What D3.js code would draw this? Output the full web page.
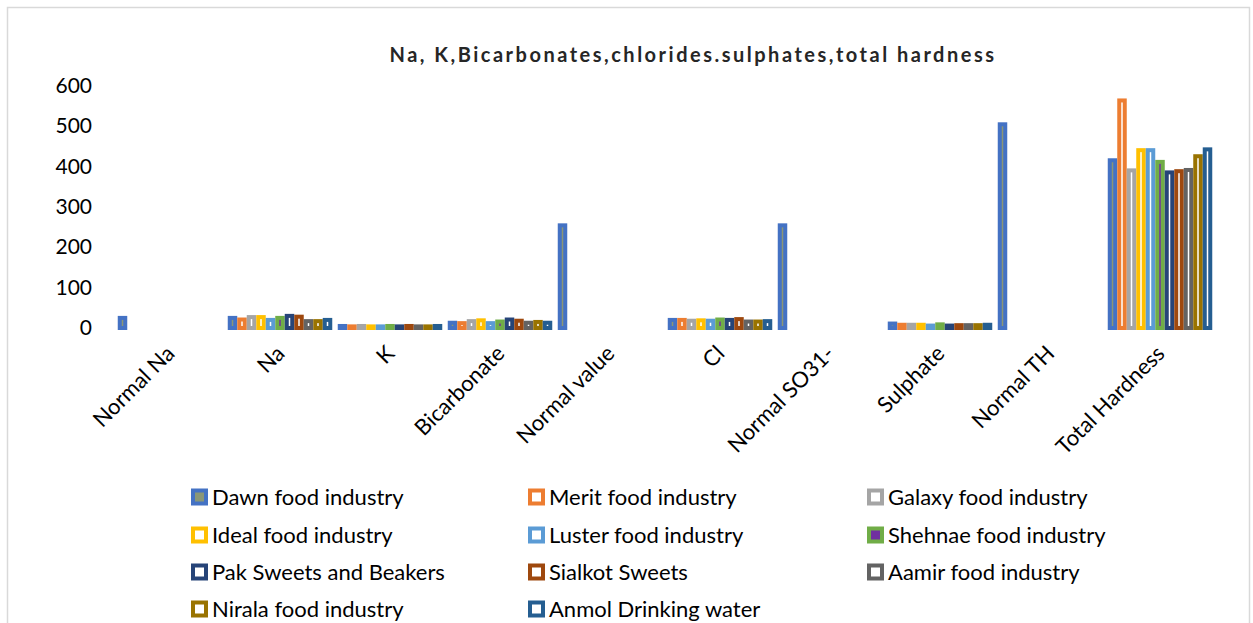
<!DOCTYPE html>
<html>
<head>
<meta charset="utf-8">
<script src="https://cdn.jsdelivr.net/npm/d3@7"></script>
<style>
  body { margin: 0; background: #fff; }
  svg { display: block; font-family: Lato, "Open Sans", sans-serif; }
</style>
</head>
<body>
<svg id="chart" width="1253" height="623"></svg>
<script>
'use strict';

const categories = ["Normal Na", "Na", "K", "Bicarbonate", "Normal value", "Cl",
	"Normal SO31-", "Sulphate", "Normal TH", "Total Hardness"];

const seriesNames = ["Dawn food industry", "Merit food industry", "Galaxy food industry",
	"Ideal food industry", "Luster food industry", "Shehnae food industry",
	"Pak Sweets and Beakers", "Sialkot Sweets", "Aamir food industry",
	"Nirala food industry", "Anmol Drinking water"];

// one value per category, in the order of `categories`
const dawn    = [25, 25, 5, 13, 254, 20, 254, 11, 504, 415];
const merit   = [0, 21, 4, 12, 0, 20, 0, 8, 0, 563];
const galaxy  = [0, 27, 5, 17, 0, 18, 0, 8, 0, 390];
const ideal   = [0, 27, 4, 19, 0, 19, 0, 8, 0, 440];
const luster  = [0, 20, 4, 12, 0, 18, 0, 6, 0, 440];
const shehnae = [0, 25, 5, 16, 0, 21, 0, 9, 0, 411];
const pak     = [0, 30, 4, 21, 0, 20, 0, 6, 0, 385];
const sialkot = [0, 28, 5, 18, 0, 22, 0, 7, 0, 388];
const aamir   = [0, 17, 4, 13, 0, 16, 0, 7, 0, 391];
const nirala  = [0, 17, 4, 15, 0, 16, 0, 7, 0, 425];
const anmol   = [0, 20, 5, 13, 0, 17, 0, 8, 0, 442];

const seriesValues = [dawn, merit, galaxy, ideal, luster, shehnae, pak, sialkot, aamir, nirala, anmol];

const outerColors = ["#4472C4", "#ED7D31", "#A5A5A5", "#FFC000", "#5B9BD5", "#70AD47",
	"#264478", "#9E480E", "#636363", "#997300", "#255E91"];
const innerColors = ["#8a9777", "#ffffff", "#ffffff", "#ffffff", "#ffffff", "#7030A0",
	"#ffffff", "#ffffff", "#ffffff", "#ffffff", "#ffffff"];

const yTicks = [0, 100, 200, 300, 400, 500, 600];

const svg = d3.select("#chart");

// chart frame
svg.append("rect")
	.attr("x", 7.5).attr("y", 7.5)
	.attr("width", 1242).attr("height", 620)
	.attr("fill", "#fff")
	.attr("stroke", "#d9d9d9")
	.attr("stroke-width", 1.5);

svg.append("text")
	.attr("x", 693).attr("y", 62)
	.attr("text-anchor", "middle")
	.attr("font-weight", "bold")
	.attr("font-size", 20)
	.attr("letter-spacing", 2.5)
	.attr("fill", "#262626")
	.text("Na, K,Bicarbonates,chlorides.sulphates,total hardness");

const y = d3.scaleLinear().domain([0, 600]).range([328, 85.5]);
const x = d3.scaleBand().domain(categories).range([115, 1215])
	.paddingInner(0.05).paddingOuter(0.025);
const xs = d3.scaleBand().domain(d3.range(seriesNames.length)).range([0, x.bandwidth()]);

// y axis labels only, no line or grid
const yAxis = d3.axisLeft(y).tickValues(yTicks).tickSize(0).tickPadding(0);
svg.append("g")
	.attr("transform", "translate(92,0)")
	.call(yAxis)
	.call(g => g.select(".domain").remove())
	.call(g => g.selectAll("text")
		.attr("font-size", 21)
		.attr("font-family", "Lato, sans-serif")
		.attr("fill", "#000"));

// bars: thick outline in series colour, narrow inner fill
const sw = 4;
const bars = [];
seriesValues.forEach((vals, si) => {
	vals.forEach((v, ci) => {
		if (v > 0) bars.push({si: si, cat: categories[ci], v: v});
	});
});

svg.append("g").selectAll("rect")
	.data(bars)
	.enter().append("rect")
	.attr("x", d => x(d.cat) + xs(d.si) + sw / 2)
	.attr("y", d => y(d.v))
	.attr("width", xs.bandwidth() - sw)
	.attr("height", d => y(0) - y(d.v))
	.attr("fill", d => innerColors[d.si])
	.attr("stroke", d => outerColors[d.si])
	.attr("stroke-width", sw);

// x axis labels rotated -45
const xAxis = d3.axisBottom(x).tickSize(0).tickPadding(0);
svg.append("g")
	.attr("transform", "translate(-5,344)")
	.call(xAxis)
	.call(g => g.select(".domain").remove())
	.call(g => g.selectAll("text")
		.attr("font-size", 22)
		.attr("font-family", "Lato, sans-serif")
		.attr("fill", "#000")
		.attr("text-anchor", "end")
		.attr("dy", "0.7em")
		.attr("transform", "rotate(-45)"));

// legend, 3 columns
const legendCols = [190, 527, 866];
const legendRowY = [497, 535, 572, 609];
const legend = svg.append("g").selectAll("g")
	.data(seriesNames)
	.enter().append("g")
	.attr("transform", (d, i) => `translate(${legendCols[i % 3]},${legendRowY[Math.floor(i / 3)]})`);

legend.append("rect")
	.attr("x", 3).attr("y", -6.5)
	.attr("width", 13).attr("height", 13)
	.attr("fill", (d, i) => innerColors[i])
	.attr("stroke", (d, i) => outerColors[i])
	.attr("stroke-width", 4);

legend.append("text")
	.attr("x", 22).attr("y", 0)
	.attr("dy", "0.35em")
	.attr("font-size", 22)
	.attr("fill", "#000")
	.text(d => d);
</script>
</body>
</html>
